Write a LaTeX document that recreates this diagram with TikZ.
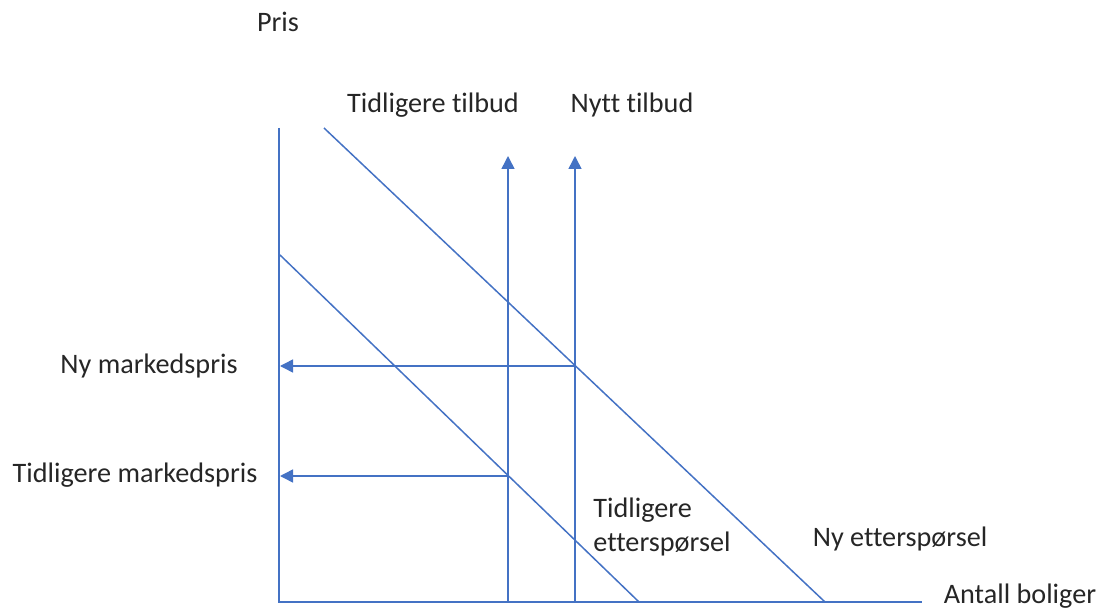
\documentclass[tikz,border=0pt]{standalone}
\usepackage{fontspec}
\setmainfont[Ligatures=NoCommon]{Carlito}
\usetikzlibrary{arrows.meta}
\definecolor{lineblue}{HTML}{4472C4}
\begin{document}
\begin{tikzpicture}[x=0.5pt,y=-0.5pt,
  curve/.style={draw=lineblue,line width=0.75pt},
  arrowline/.style={curve,-{Triangle[length=6.5pt,width=6.5pt]}},
  lbl/.style={font=\fontsize{14.1pt}{17pt}\selectfont,text=black!85,inner sep=0pt}]
\useasboundingbox (0,0) rectangle (1103,609);
% axes
\coordinate (origin) at (279,602);
\coordinate (ytop) at (279,128);
\coordinate (xend) at (922,602);
\draw[curve] (ytop) -- (origin) -- (xend);
% demand curves
\coordinate (d0a) at (280,255);
\coordinate (d0b) at (639,602);
\coordinate (d1a) at (324,128);
\coordinate (d1b) at (825,602);
\draw[curve] (d0a) -- (d0b);
\draw[curve] (d1a) -- (d1b);
% supply lines
\coordinate (s0b) at (508,602);
\coordinate (s0t) at (508,156);
\coordinate (s1b) at (575,602);
\coordinate (s1t) at (575,156);
\draw[arrowline] (s0b) -- (s0t);
\draw[arrowline] (s1b) -- (s1t);
% equilibrium prices
\coordinate (e0) at (508,476);
\coordinate (e1) at (575,366);
\coordinate (p0) at (280,476);
\coordinate (p1) at (280,366);
\draw[arrowline] (e1) -- (p1);
\draw[arrowline] (e0) -- (p0);
% labels
\node[lbl] (pris) at (278,22) {Pris};
\node[lbl] (tt) at (433,105) {Tidligere tilbud};
\node[lbl] (nt) at (632,105) {Nytt tilbud};
\node[lbl] (nm) at (149,366) {Ny markedspris};
\node[lbl] (tm) at (135,475) {Tidligere markedspris};
\node[lbl,align=left,anchor=west] (te) at (593,527) {Tidligere\\etterspørsel};
\node[lbl] (ne) at (900,539) {Ny etterspørsel};
\node[lbl] (ab) at (1020,596) {Antall boliger};
\end{tikzpicture}
\end{document}
